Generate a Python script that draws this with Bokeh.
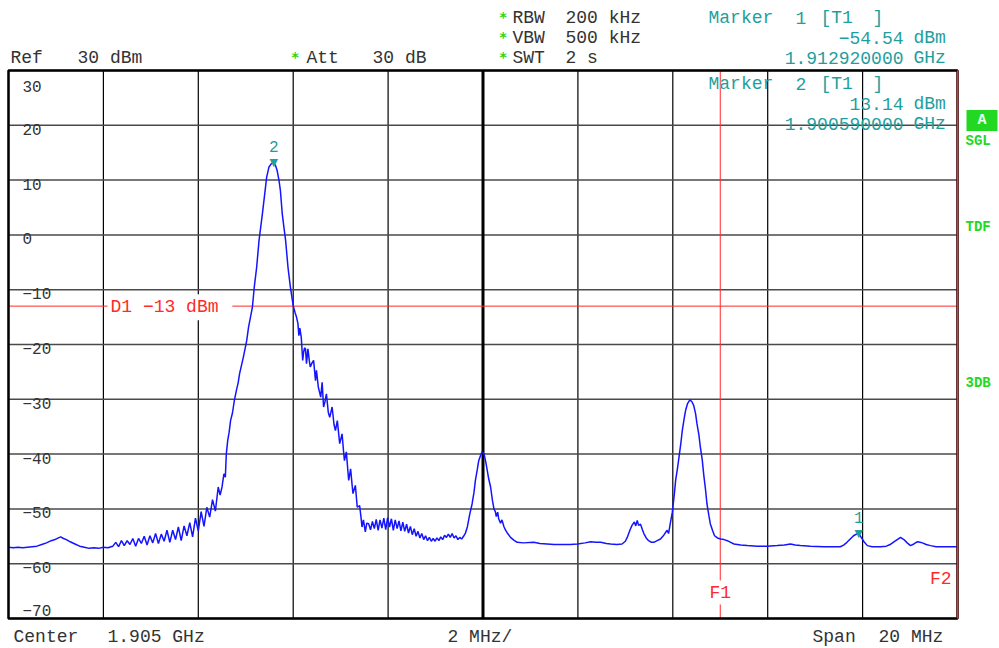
from bokeh.plotting import figure
from bokeh.models import Range1d, Label
from bokeh.embed import file_html
from bokeh.resources import INLINE
from bokeh.core.properties import value

# ---------------- data ----------------
freq_start_mhz = 1895.0
freq_stop_mhz = 1915.0
ref_level_dbm = 30
bottom_level_dbm = -70

x_grid_mhz = [1895, 1897, 1899, 1901, 1903, 1905, 1907, 1909, 1911, 1913, 1915]
y_grid_dbm = [30, 20, 10, 0, -10, -20, -30, -40, -50, -60, -70]
y_tick_labels = ["30", "20", "10", "0", "\u221210", "\u221220", "\u221230",
                 "\u221240", "\u221250", "\u221260", "\u221270"]

center_mhz = 1905
d1_level_dbm = -13
f1_mhz = 1910
f2_mhz = 1915

marker_freq_mhz = [1912.92, 1900.59]
marker_level_dbm = [-54.54, 13.14]
marker_names = ["1", "2"]

freq_mhz = [
    1895.00, 1895.10, 1895.20, 1895.30, 1895.40, 1895.50, 1895.60, 1895.70, 1895.80, 1895.90,
    1895.98, 1896.05, 1896.10, 1896.16, 1896.22, 1896.30, 1896.40, 1896.50, 1896.60, 1896.70,
    1896.80, 1896.90, 1897.00, 1897.10, 1897.16,
    1897.20, 1897.26, 1897.32, 1897.38, 1897.44, 1897.50, 1897.56, 1897.62, 1897.68, 1897.74,
    1897.80, 1897.86, 1897.92, 1897.98, 1898.04, 1898.10, 1898.16, 1898.22, 1898.28, 1898.34,
    1898.40, 1898.46, 1898.52, 1898.58, 1898.64, 1898.70, 1898.76, 1898.82, 1898.88, 1898.94,
    1899.00, 1899.06, 1899.12, 1899.18, 1899.24, 1899.30, 1899.36, 1899.42,
    1899.46, 1899.50, 1899.54, 1899.57, 1899.59, 1899.62, 1899.65, 1899.68, 1899.72, 1899.76,
    1899.81, 1899.84, 1899.87, 1899.91, 1899.95, 1900.02, 1900.06, 1900.10, 1900.14, 1900.18,
    1900.23, 1900.28, 1900.35, 1900.40, 1900.44, 1900.49, 1900.54, 1900.59, 1900.63, 1900.66,
    1900.70, 1900.73, 1900.77, 1900.81, 1900.84, 1900.89, 1900.94, 1901.00,
    1901.04, 1901.07, 1901.10, 1901.12, 1901.14, 1901.17, 1901.20, 1901.22, 1901.24, 1901.26,
    1901.28, 1901.31, 1901.34, 1901.36, 1901.40, 1901.43, 1901.47, 1901.49, 1901.53, 1901.55,
    1901.58, 1901.61, 1901.64, 1901.67, 1901.70, 1901.74, 1901.77, 1901.82, 1901.86, 1901.89,
    1901.93, 1901.98, 1902.03, 1902.06, 1902.08, 1902.12, 1902.15, 1902.17, 1902.21, 1902.24,
    1902.26, 1902.31, 1902.35, 1902.40, 1902.43, 1902.45, 1902.48, 1902.52, 1902.55, 1902.59,
    1902.63, 1902.67, 1902.71, 1902.75, 1902.79, 1902.83, 1902.87, 1902.91, 1902.95, 1902.99,
    1903.03, 1903.07, 1903.11, 1903.15, 1903.19, 1903.23, 1903.27, 1903.31, 1903.35, 1903.39,
    1903.43, 1903.47, 1903.51, 1903.55, 1903.59, 1903.63, 1903.67, 1903.71, 1903.75, 1903.79,
    1903.83, 1903.87, 1903.91, 1903.95, 1903.99, 1904.03, 1904.07, 1904.11, 1904.15, 1904.19,
    1904.23, 1904.27, 1904.31, 1904.35, 1904.39, 1904.43, 1904.47, 1904.51, 1904.55, 1904.59,
    1904.63,
    1904.67, 1904.72, 1904.77, 1904.81, 1904.84, 1904.88, 1904.91, 1904.95, 1904.98, 1905.01,
    1905.03, 1905.06, 1905.09, 1905.12, 1905.16, 1905.20, 1905.23, 1905.26, 1905.28, 1905.31,
    1905.33, 1905.37, 1905.40, 1905.44, 1905.47, 1905.52, 1905.58, 1905.65, 1905.72,
    1905.85, 1906.07, 1906.20, 1906.35, 1906.50, 1906.70, 1906.84, 1906.99, 1907.15, 1907.27,
    1907.38, 1907.48, 1907.60, 1907.69, 1907.82, 1907.93, 1908.00, 1908.04, 1908.10, 1908.14,
    1908.19, 1908.22, 1908.25, 1908.28, 1908.32, 1908.36, 1908.39, 1908.44, 1908.49, 1908.55,
    1908.60, 1908.67, 1908.74, 1908.81, 1908.88, 1908.91, 1908.95, 1908.99, 1909.03, 1909.06,
    1909.10, 1909.13, 1909.17, 1909.20, 1909.24, 1909.27, 1909.31, 1909.36, 1909.40, 1909.44,
    1909.48, 1909.51, 1909.55, 1909.58, 1909.62, 1909.65, 1909.69, 1909.72, 1909.76, 1909.79,
    1909.84, 1909.88, 1909.94, 1910.01, 1910.08, 1910.15, 1910.22, 1910.29, 1910.43, 1910.57,
    1910.78, 1910.99, 1911.20, 1911.35, 1911.48, 1911.58, 1911.69, 1911.90, 1912.18, 1912.40,
    1912.53, 1912.60, 1912.67, 1912.74, 1912.81, 1912.87, 1912.92, 1912.97, 1913.03, 1913.10,
    1913.20, 1913.38, 1913.50, 1913.58, 1913.66, 1913.73, 1913.80, 1913.87, 1913.94, 1914.01,
    1914.08, 1914.15, 1914.21, 1914.26, 1914.34, 1914.43, 1914.55, 1914.70, 1914.85, 1915.00,
]

level_dbm = [
    -57.0, -57.1, -57.0, -57.1, -57.0, -56.9, -56.8, -56.5, -56.2, -55.8,
    -55.6, -55.3, -55.1, -55.4, -55.6, -56.0, -56.4, -56.8, -57.0, -57.2,
    -57.1, -57.2, -57.0, -57.1, -56.9,
    -56.8, -56.1, -56.9, -55.8, -56.7, -55.8, -56.5, -55.4, -56.8, -55.4,
    -56.3, -55.0, -56.6, -54.9, -56.2, -54.5, -56.3, -54.6, -55.9, -53.9,
    -56.1, -53.9, -55.6, -53.3, -55.8, -53.1, -54.9, -52.5, -55.1, -51.7,
    -54.0, -50.5, -53.2, -49.7, -51.5, -48.3, -50.4, -46.0,
    -47.5, -46.0, -43.6, -44.2, -40.0, -37.5, -36.0, -33.9, -32.5, -30.2,
    -28.1, -27.0, -25.3, -23.8, -22.3, -19.3, -16.8, -15.0, -13.2, -9.5,
    -5.9, -1.0, 3.8, 7.5, 10.5, 12.4, 13.0, 13.14, 12.6, 11.8,
    10.0, 8.1, 3.8, 1.0, -1.0, -5.9, -9.5, -12.9,
    -14.2, -15.0, -16.2, -18.4, -17.0, -18.7, -22.9, -21.4, -20.6, -20.8,
    -23.5, -20.8, -23.0, -24.1, -23.3, -22.9, -26.6, -24.7, -27.8, -28.5,
    -29.6, -26.9, -31.4, -30.4, -29.0, -32.4, -33.3, -31.4, -34.6, -35.7,
    -33.9, -38.1, -36.3, -39.4, -41.2, -39.6, -42.8, -44.8, -42.7, -45.5,
    -47.2, -45.7, -49.7, -49.4, -51.6, -53.3, -52.0, -54.2, -52.6, -52.7,
    -53.8, -52.3, -53.6, -51.9, -53.9, -52.0, -53.5, -51.7, -53.8, -51.6,
    -53.3, -51.8, -53.9, -52.0, -53.6, -52.2, -54.0, -52.4, -54.1, -52.8,
    -54.4, -53.2, -54.7, -53.6, -55.0, -54.1, -55.3, -54.5, -55.6, -54.9,
    -55.8, -55.2, -55.9, -55.4, -55.9, -55.3, -55.8, -55.1, -55.6, -54.8,
    -55.2, -54.6, -55.2, -54.5, -55.3, -54.9, -55.6, -55.2, -55.5, -55.0,
    -54.4,
    -53.3, -51.0, -49.1, -47.0, -44.8, -42.8, -41.2, -40.2, -39.6, -39.8,
    -40.3, -41.5, -43.0, -44.5, -46.0, -48.5, -50.0, -50.5, -51.4, -50.6,
    -51.8, -52.6, -52.0, -53.2, -53.8, -54.5, -55.2, -55.7, -56.1,
    -56.2, -56.1, -56.3, -56.4, -56.5, -56.5, -56.5, -56.4, -56.2, -56.0,
    -56.1, -56.1, -56.3, -56.4, -56.5, -56.4, -55.9, -55.2, -53.8, -53.0,
    -52.4, -53.1, -52.1, -53.0, -52.8, -53.8, -54.5, -55.3, -55.8, -56.1,
    -56.1, -55.8, -55.5, -54.8, -53.9, -54.5, -52.5, -50.6, -47.5, -44.8,
    -42.5, -40.6, -38.0, -35.7, -33.5, -32.0, -30.8, -30.1, -30.4, -31.1,
    -32.6, -34.5, -36.5, -38.7, -41.0, -43.6, -46.5, -49.1, -51.2, -52.7,
    -54.0, -54.9, -55.3, -55.5, -55.6, -55.8, -56.1, -56.4, -56.6, -56.7,
    -56.8, -56.8, -56.7, -56.6, -56.4, -56.6, -56.7, -56.8, -56.9, -56.9,
    -56.9, -56.6, -56.1, -55.5, -54.9, -54.6, -54.54, -55.2, -56.0, -56.7,
    -56.9, -56.9, -56.8, -56.5, -56.0, -55.6, -55.2, -55.6, -56.2, -56.7,
    -56.4, -56.0, -56.1, -56.2, -56.5, -56.7, -56.9, -56.9, -56.9, -56.9,
]

# ---------------- layout / style ----------------
W, H = 999, 648
PLOT_L, PLOT_R, PLOT_T, PLOT_B = 8, 957, 70, 618   # measurement area in canvas px

MONO = "Liberation Mono"
TXT = "#333333"
TEAL = "#1f9e9e"
RED = "#ff2a2a"
GREEN = "#22d822"
BLUE = "#1414ff"

# the Bokeh frame covers the whole canvas; ranges are chosen so that the
# measurement area lands on PLOT_L..PLOT_R / PLOT_T..PLOT_B
px_per_mhz = (PLOT_R - PLOT_L) / (freq_stop_mhz - freq_start_mhz)
px_per_db = (PLOT_B - PLOT_T) / (ref_level_dbm - bottom_level_dbm)
x_lo = freq_start_mhz - PLOT_L / px_per_mhz
x_hi = freq_start_mhz + (W - PLOT_L) / px_per_mhz
y_hi = ref_level_dbm + PLOT_T / px_per_db
y_lo = bottom_level_dbm - (H - PLOT_B) / px_per_db

p = figure(width=W, height=H,
           x_range=Range1d(x_lo, x_hi), y_range=Range1d(y_lo, y_hi),
           output_backend="svg", toolbar_location=None,
           x_axis_location=None, y_axis_location=None,
           min_border_left=0, min_border_right=0,
           min_border_top=0, min_border_bottom=0)
p.outline_line_color = None
p.background_fill_color = "white"
p.border_fill_color = "white"
for g in p.grid:
    g.visible = False

nx, ny = len(x_grid_mhz), len(y_grid_dbm)
# graticule
p.segment(x0=x_grid_mhz, y0=[bottom_level_dbm] * nx, x1=x_grid_mhz, y1=[ref_level_dbm] * nx,
          line_color="black", line_width=1.2)
p.segment(x0=[freq_start_mhz] * ny, y0=y_grid_dbm, x1=[freq_stop_mhz] * ny, y1=y_grid_dbm,
          line_color="#4a4a4a", line_width=1.5)
p.segment(x0=[center_mhz], y0=[bottom_level_dbm], x1=[center_mhz], y1=[ref_level_dbm],
          line_color="black", line_width=3)

# limit lines
p.segment(x0=[freq_start_mhz], y0=[d1_level_dbm], x1=[freq_stop_mhz], y1=[d1_level_dbm],
          line_color=RED, line_width=1)
p.segment(x0=[f1_mhz], y0=[bottom_level_dbm], x1=[f1_mhz], y1=[ref_level_dbm],
          line_color=RED, line_width=1)

# trace
p.line(freq_mhz, level_dbm, line_color=BLUE, line_width=1.5)

# frame
p.quad(left=[freq_start_mhz], right=[freq_stop_mhz], bottom=[bottom_level_dbm],
       top=[ref_level_dbm], fill_color=None, line_color="black", line_width=2.5)
p.segment(x0=[f2_mhz], y0=[bottom_level_dbm], x1=[f2_mhz], y1=[ref_level_dbm],
          line_color=RED, line_width=1.5)

# y tick labels inside the frame
tick_yoff = [16] + [4] * (ny - 2) + [-8]
p.text(x=[freq_start_mhz] * ny, y=y_grid_dbm, text=y_tick_labels,
       x_offset=14, y_offset=tick_yoff, text_baseline="middle",
       text_font=value(MONO), text_font_size="16px", text_color=TXT)

# markers
p.text(x=marker_freq_mhz, y=marker_level_dbm, text=["\u25bc"] * len(marker_names),
       text_align="center", text_baseline="alphabetic", y_offset=0,
       text_font=value("DejaVu Sans"), text_font_size="11px", text_color=TEAL)
p.text(x=marker_freq_mhz, y=marker_level_dbm, text=marker_names,
       text_align="center", text_baseline="middle", y_offset=-16,
       text_font=value(MONO), text_font_size="16px", text_color=TEAL)


def lab(text, xo, yo, color=TXT, size="18px", align="left", x=None, y=None,
        bg=None, pad=0, style="normal", font=MONO):
    kw = dict(x=freq_start_mhz if x is None else x,
              y=ref_level_dbm if y is None else y,
              x_units="data", y_units="data", x_offset=xo, y_offset=yo,
              text=text, text_color=color, text_font_size=size,
              text_align=align, text_baseline="middle", text_font=font,
              text_font_style=style)
    if bg is not None:
        kw.update(background_fill_color=bg, padding=pad)
    p.add_layout(Label(**kw))


# header texts (offsets relative to the top-left corner of the measurement area)
lab("Ref", 2, 13)
lab("30 dBm", 69, 13)
lab("*", 283, 14, color=GREEN, size="14px", style="bold", font="DejaVu Sans")
lab("Att", 298, 13)
lab("30 dB", 364, 13)
for yo, name, val in [(53, "RBW", "200 kHz"), (33, "VBW", "500 kHz"), (13, "SWT", "2 s")]:
    lab("*", 491, yo + 1, color=GREEN, size="14px", style="bold", font="DejaVu Sans")
    lab(name, 504, yo)
    lab(val, 557, yo)

# marker readouts
for yo, num, lvl, frq in [(53, "1", "\u221254.54", "1.912920000"),
                          (-13, "2", "13.14", "1.900590000")]:
    lab("Marker", 700, yo, color=TEAL)
    lab(num, 787, yo, color=TEAL)
    lab("[T1", 812, yo, color=TEAL)
    lab("]", 864, yo, color=TEAL)
    lab(lvl, 895, yo - 20, color=TEAL, align="right")
    lab("dBm", 905, yo - 20, color=TEAL)
    lab(frq, 895, yo - 40, color=TEAL, align="right")
    lab("GHz", 905, yo - 40, color=TEAL)

# right side status
lab("\u00a0A\u00a0", 958, -50, color="#eaffea", size="15px", style="bold",
    bg=GREEN, pad=2)
lab("SGL", 957, -70, color=GREEN, size="14px", style="bold")
lab("TDF", 957, -156, color=GREEN, size="14px", style="bold")
lab("3DB", 957, -312, color=GREEN, size="14px", style="bold")

# limit line labels
lab("D1  \u221213 dBm", 99, -1, color=RED, y=d1_level_dbm, bg="white", pad=3)
lab("F1", 0, 26, color=RED, x=f1_mhz, y=bottom_level_dbm, align="center", bg="white", pad=2)
lab("F2", -6, 40, color=RED, x=f2_mhz, y=bottom_level_dbm, align="right")

# bottom texts
lab("Center", 5, -18, y=bottom_level_dbm)
lab("1.905 GHz", 99, -18, y=bottom_level_dbm)
lab("2 MHz/", 439, -18, y=bottom_level_dbm)
lab("Span", 804, -18, y=bottom_level_dbm)
lab("20 MHz", 870, -18, y=bottom_level_dbm)

open("out.html", "w").write(file_html(p, INLINE))
